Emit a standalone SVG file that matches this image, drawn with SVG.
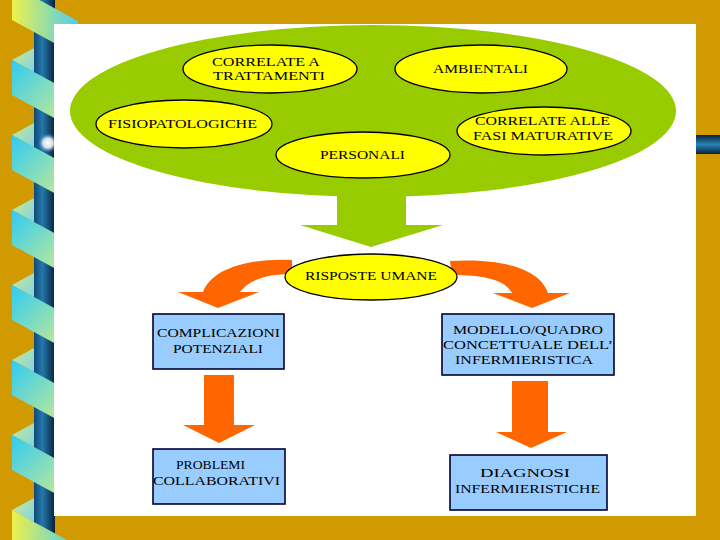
<svg xmlns="http://www.w3.org/2000/svg" width="720" height="540" viewBox="0 0 720 540">
<defs>
<linearGradient id="bar" x1="0" y1="0" x2="1" y2="0"><stop offset="0" stop-color="#10497A"/><stop offset="0.4" stop-color="#2479AA"/><stop offset="1" stop-color="#07213A"/></linearGradient>
<linearGradient id="rbar" x1="0" y1="0" x2="0" y2="1"><stop offset="0" stop-color="#07213A"/><stop offset="0.5" stop-color="#2A82B4"/><stop offset="1" stop-color="#07213A"/></linearGradient>
<linearGradient id="band" x1="0" y1="0" x2="1" y2="1"><stop offset="0" stop-color="#2ECBF5"/><stop offset="1" stop-color="#EAF27A"/></linearGradient>
<linearGradient id="bandY" x1="0" y1="0" x2="1" y2="0"><stop offset="0" stop-color="#EEF04A"/><stop offset="1" stop-color="#4CCDF2"/></linearGradient>
<linearGradient id="back" x1="0" y1="0" x2="1" y2="1"><stop offset="0" stop-color="#CDEB8C"/><stop offset="1" stop-color="#7FD3E6"/></linearGradient>
<radialGradient id="glow"><stop offset="0" stop-color="#FFFFFF"/><stop offset="0.5" stop-color="#E8F0F8" stop-opacity="0.9"/><stop offset="1" stop-color="#2479AA" stop-opacity="0"/></radialGradient>
<style>
.yel{fill:#FFFF00;stroke:#000000;stroke-width:1.3}
.box{fill:#99CCFF;stroke:#000033;stroke-width:1.6}
.t{font-family:"Liberation Serif","Times New Roman",serif;font-size:12.5px;fill:#000000}
.or{fill:#FF6600}
</style>
</defs>
<rect x="0" y="0" width="720" height="540" fill="#D09A00"/>
<g id="decor-left">
<polygon fill="url(#back)" points="12,-15 34,-27 34,-3"/>
<polygon fill="url(#back)" points="12,60 34,48 34,72"/>
<polygon fill="url(#back)" points="12,135 34,123 34,147"/>
<polygon fill="url(#back)" points="12,210 34,198 34,222"/>
<polygon fill="url(#back)" points="12,285 34,273 34,297"/>
<polygon fill="url(#back)" points="12,360 34,348 34,372"/>
<polygon fill="url(#back)" points="12,435 34,423 34,447"/>
<polygon fill="url(#back)" points="12,510 34,498 34,522"/>
<rect x="34" y="0" width="21" height="540" fill="url(#bar)"/>
<polygon fill="url(#bandY)" points="12,-15 78,21 78,56 12,20"/>
<polygon fill="url(#band)" points="12,60 78,96 78,131 12,95"/>
<polygon fill="url(#band)" points="12,135 78,171 78,206 12,170"/>
<polygon fill="url(#band)" points="12,210 78,246 78,281 12,245"/>
<polygon fill="url(#band)" points="12,285 78,321 78,356 12,320"/>
<polygon fill="url(#band)" points="12,360 78,396 78,431 12,395"/>
<polygon fill="url(#band)" points="12,435 78,471 78,506 12,470"/>
<polygon fill="url(#bandY)" points="12,510 78,546 78,581 12,545"/>
<circle cx="48" cy="143" r="10" fill="url(#glow)"/>
</g>
<rect x="696" y="135" width="24" height="19" fill="url(#rbar)"/>
<rect x="54" y="24" width="642" height="492" fill="#FFFFFF"/>
<g id="connectors">
<path fill="#99CC00" d="M337,180 L406,180 L406,225 L443,225 L371,247 L300,225 L337,225 Z"/>
<path class="or" d="M292,260 C250,258 212,268 203,292 L178,292 L218,308 L259,292 L240,292 C250,279 268,274 292,274 Z"/>
<path class="or" d="M450,261 C500,258 540,268 548,293 L570,293 L532,308 L493,293 L512,293 C505,280 485,275 452,275 Z"/>
<path class="or" d="M204,375 L234,375 L234,425 L255,425 L219,443 L183,425 L204,425 Z"/>
<path class="or" d="M512,381 L548,381 L548,432 L567,432 L531,448 L496,432 L512,432 Z"/>
</g>
<g id="group-cause">
<ellipse cx="373" cy="111" rx="303" ry="86" fill="#99CC00"/>
</g>
<g id="n-trattamenti">
<ellipse class="yel" cx="270" cy="69" rx="87" ry="24"/>
<text class="t" x="212" y="66" textLength="108" lengthAdjust="spacingAndGlyphs">CORRELATE A</text>
<text class="t" x="213" y="80" textLength="112" lengthAdjust="spacingAndGlyphs">TRATTAMENTI</text>
</g>
<g id="n-ambientali">
<ellipse class="yel" cx="481" cy="69" rx="86" ry="24"/>
<text class="t" x="433" y="73" textLength="95" lengthAdjust="spacingAndGlyphs">AMBIENTALI</text>
</g>
<g id="n-fisiopatologiche">
<ellipse class="yel" cx="184" cy="124" rx="88" ry="24"/>
<text class="t" x="108" y="128" textLength="149" lengthAdjust="spacingAndGlyphs">FISIOPATOLOGICHE</text>
</g>
<g id="n-fasi">
<ellipse class="yel" cx="544" cy="131" rx="87" ry="24"/>
<text class="t" x="475" y="125" textLength="135" lengthAdjust="spacingAndGlyphs">CORRELATE ALLE</text>
<text class="t" x="473" y="140" textLength="140" lengthAdjust="spacingAndGlyphs">FASI MATURATIVE</text>
</g>
<g id="n-personali">
<ellipse class="yel" cx="363" cy="155" rx="87" ry="23"/>
<text class="t" x="320" y="159" textLength="85" lengthAdjust="spacingAndGlyphs">PERSONALI</text>
</g>
<g id="n-risposte">
<ellipse class="yel" cx="371" cy="277" rx="86" ry="23"/>
<text class="t" x="305" y="280" textLength="132" lengthAdjust="spacingAndGlyphs">RISPOSTE UMANE</text>
</g>
<g id="n-complicazioni">
<rect class="box" x="153" y="314" width="131" height="55"/>
<text class="t" x="157" y="337" textLength="123" lengthAdjust="spacingAndGlyphs">COMPLICAZIONI</text>
<text class="t" x="173" y="353" textLength="90" lengthAdjust="spacingAndGlyphs">POTENZIALI</text>
</g>
<g id="n-problemi">
<rect class="box" x="153" y="449" width="132" height="55"/>
<text class="t" x="176" y="469" textLength="69" lengthAdjust="spacingAndGlyphs">PROBLEMI</text>
<text class="t" x="153" y="485" textLength="127" lengthAdjust="spacingAndGlyphs">COLLABORATIVI</text>
</g>
<g id="n-modello">
<rect class="box" x="442" y="314" width="172" height="61"/>
<text class="t" x="453" y="334" textLength="150" lengthAdjust="spacingAndGlyphs">MODELLO/QUADRO</text>
<text class="t" x="443" y="349" textLength="170" lengthAdjust="spacingAndGlyphs">CONCETTUALE DELL’</text>
<text class="t" x="455" y="364" textLength="138" lengthAdjust="spacingAndGlyphs">INFERMIERISTICA</text>
</g>
<g id="n-diagnosi">
<rect class="box" x="450" y="455" width="157" height="55"/>
<text class="t" x="480" y="477" textLength="90" lengthAdjust="spacingAndGlyphs">DIAGNOSI</text>
<text class="t" x="455" y="493" textLength="145" lengthAdjust="spacingAndGlyphs">INFERMIERISTICHE</text>
</g>
</svg>
